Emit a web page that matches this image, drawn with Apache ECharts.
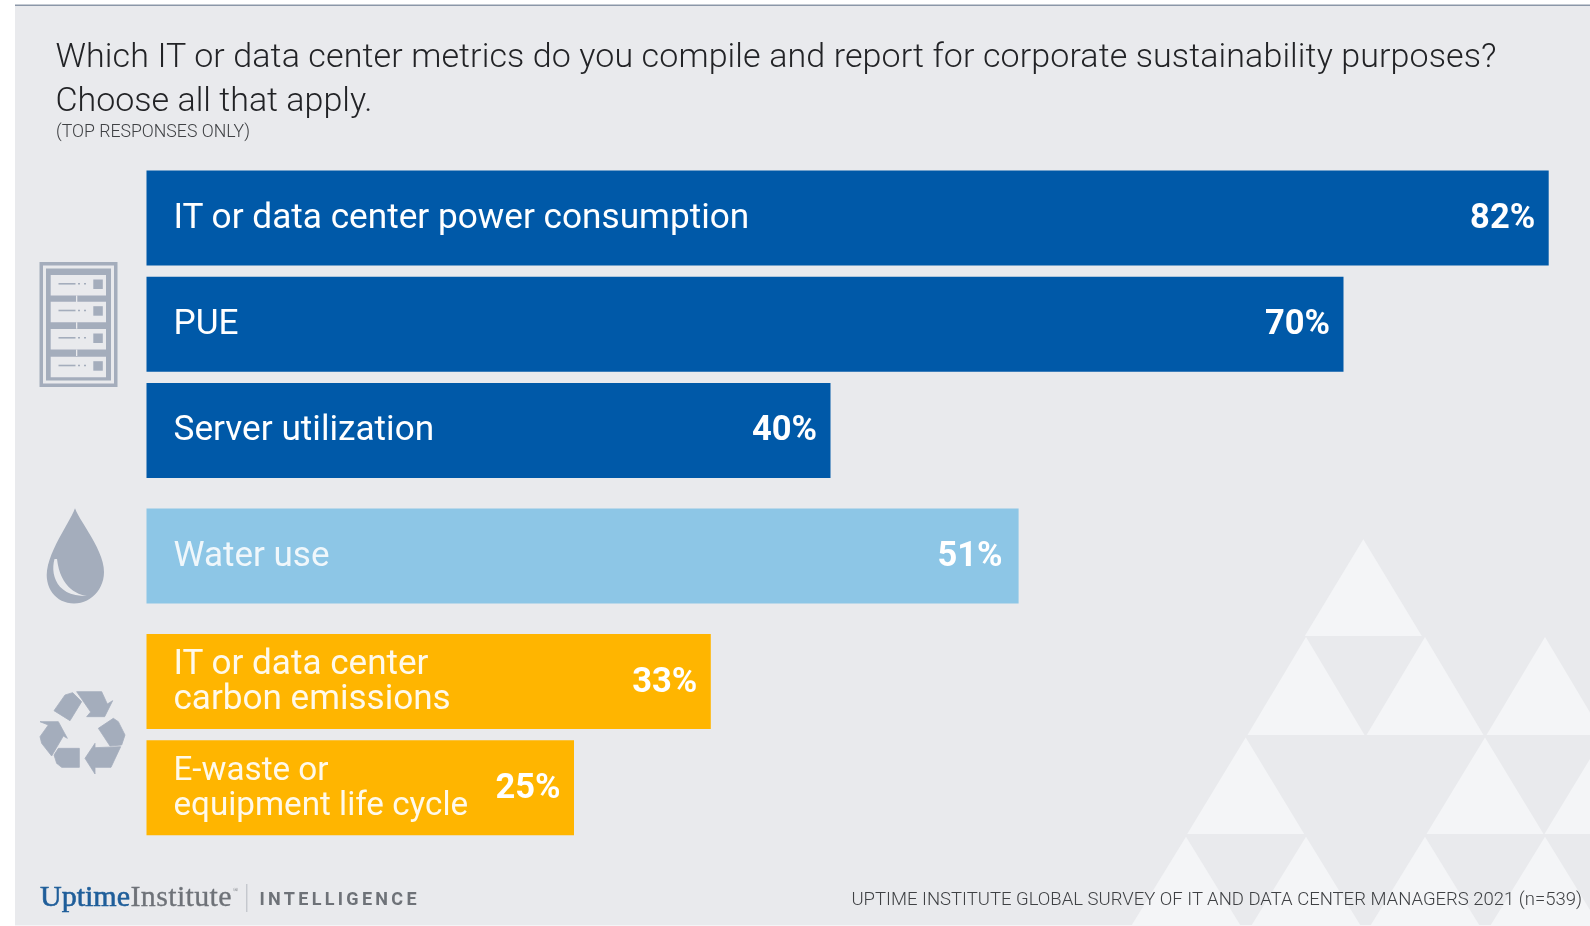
<!DOCTYPE html>
<html><head><meta charset="utf-8">
<style>html,body{margin:0;padding:0;background:#fff}#c{width:1590px;height:926px;filter:blur(0.45px)}</style>
<script src="https://cdn.jsdelivr.net/npm/echarts@6/dist/echarts.min.js"></script>
</head><body><div id="c"></div>
<script>
const titleLines = ['Which IT or data center metrics do you compile and report for corporate sustainability purposes?', 'Choose all that apply.'];
const subtitle = '(TOP RESPONSES ONLY)';
const source = 'UPTIME INSTITUTE GLOBAL SURVEY OF IT AND DATA CENTER MANAGERS 2021 (n=539)';
const powerCategories = ['IT or data center power consumption', 'PUE', 'Server utilization'];
const powerValues = [82, 70, 40];
const waterCategories = ['Water use'];
const waterValues = [51];
const wasteCategories = ['IT or data center\ncarbon emissions', 'E-waste or\nequipment life cycle'];
const wasteValues = [33, 25];

const BG = '#e9eaed', ICON = '#a4adbc', TRI = '#f4f5f7';
const pxPerPct = 17.1, left = 146.5, axisMax = 84, pitch = 106.2;
const groups = [
  {cats: powerCategories, vals: powerValues, color: '#0059a8', center: 218, text: '#ffffff', inset: 13.5, sizes: [35.2, 35.2, 35.2]},
  {cats: waterCategories, vals: waterValues, color: '#8dc6e6', center: 556, text: '#f0f7fb', inset: 16, sizes: [35]},
  {cats: wasteCategories, vals: wasteValues, color: '#ffb500', center: 681.5, text: '#fff9ea', inset: 13.5, sizes: [35.1, 33.2]}
];
const grids = [], xAxes = [], yAxes = [], series = [];
groups.forEach((g, i) => {
  grids.push({left: left, width: axisMax * pxPerPct, top: g.center - pitch / 2, height: pitch * g.cats.length});
  xAxes.push({type: 'value', gridIndex: i, min: 0, max: axisMax, show: false});
  yAxes.push({type: 'category', gridIndex: i, inverse: true, data: g.cats, show: false});
  series.push({type: 'bar', xAxisIndex: i, yAxisIndex: i, data: g.vals, barWidth: 95, barGap: '-100%', itemStyle: {color: g.color}, silent: true,
    label: {show: true, position: 'insideRight', distance: g.inset, offset: [0, -2], formatter: '{c}%', color: '#ffffff', fontFamily: 'Roboto', fontWeight: 700, fontSize: 34.5}});
  series.push({type: 'bar', xAxisIndex: i, yAxisIndex: i, barWidth: 95, barGap: '-100%', itemStyle: {color: 'transparent'}, silent: true,
    data: g.vals.map((v, k) => ({value: v, label: {fontSize: g.sizes[k]}})),
    label: {show: true, position: 'insideLeft', distance: 27, offset: [0, -2], formatter: p => p.name, color: g.text, fontFamily: 'Roboto', lineHeight: 35, align: 'left'}});
});

// decorative triangles in the background
const triRows = [
  {apexY: 539.3, baseY: 636, xs: [1363.3]},
  {apexY: 637, baseY: 735, xs: [1306, 1425, 1545]},
  {apexY: 737.5, baseY: 834, xs: [1245.7, 1485, 1603]},
  {apexY: 836.7, baseY: 932, xs: [1186, 1306, 1425, 1545]}
];
const graphics = [
  {type: 'rect', shape: {x: 15, y: 5, width: 1575, height: 920}, style: {fill: BG}},
  {type: 'rect', shape: {x: 15, y: 4.5, width: 1575, height: 1.5}, style: {fill: '#8b97a8'}}
];
triRows.forEach(r => r.xs.forEach(x => graphics.push({type: 'polygon',
  shape: {points: [[x, r.apexY], [x - 58.5, r.baseY], [x + 58.5, r.baseY]]}, style: {fill: TRI}})));
graphics.push({type: 'rect', shape: {x: 15, y: 925, width: 1575, height: 1}, style: {fill: '#f4f5f7'}});

// server icon
const rect = (x, y, w, h, fill) => ({type: 'rect', shape: {x, y, width: w, height: h}, style: {fill}});
graphics.push(rect(39.5, 262, 78, 125, ICON), rect(43, 265.5, 71, 118, BG), rect(46, 268.5, 65, 112, ICON));
[275, 301.7, 329, 356.7].forEach(y => {
  graphics.push(rect(50.7, y, 55.3, 20.5, BG), rect(93.3, y + 4.5, 9.5, 9.5, ICON), rect(58.5, y + 8, 17, 1.6, ICON), rect(78, y + 8, 2, 1.6, ICON), rect(84, y + 8, 2, 1.6, ICON));
});
[295.5, 322.2, 349.5].forEach(y => graphics.push(rect(76, y, 1.3, 6.5, BG)));

// drop icon, outlines flattened from cubic curves
const curve = (start, segs) => {
  const pts = [start]; let p0 = start;
  segs.forEach(s => {
    for (let k = 1; k <= 14; k++) {
      const t = k / 14, u = 1 - t;
      pts.push([0, 1].map(a => u*u*u*p0[a] + 3*u*u*t*s[0][a] + 3*u*t*t*s[1][a] + t*t*t*s[2][a]));
    }
    p0 = s[2];
  });
  return pts;
};
graphics.push({type: 'polygon', shape: {points: curve([75, 508.3], [
  [[80, 522], [104, 550], [104, 572]], [[104, 590], [90, 603.5], [74, 603.5]],
  [[58, 603.5], [46.7, 591], [46.7, 575]], [[46.7, 553], [70, 522], [75, 508.3]]])}, style: {fill: ICON}});
graphics.push({type: 'polygon', shape: {points: curve([54.5, 559], [
  [[50, 575], [57, 597], [87, 596]], [[74, 594], [60, 585], [57, 559]]])}, style: {fill: BG}});

// recycle icon
const recycle = [
  [[72,92],[105,45],[128,38],[155,65],[120,122]],
  [[140,35],[215,35],[232,72],[248,62],[224,110],[170,110],[182,96]],
  [[205,145],[250,115],[265,125],[285,165],[275,195],[240,198]],
  [[272,200],[243,262],[195,262],[195,282],[165,235],[195,190],[195,203]],
  [[72,225],[85,205],[148,205],[148,262],[95,262],[80,250]],
  [[30,125],[85,125],[112,175],[100,168],[65,228],[35,190],[30,170],[55,135]]
];
recycle.forEach(p => graphics.push({type: 'polygon', shape: {points: p.map(q => [30 + q[0] / 3, 680 + q[1] / 3])},
  style: {fill: ICON, stroke: ICON, lineWidth: 0.8, lineJoin: 'round'}}));

// text helper: y is the baseline
const txt = (text, x, y, style) => ({type: 'text', x, y: y - 0.35 * style.fontSize, style: Object.assign({text, verticalAlign: 'middle'}, style)});
graphics.push(
  txt('Uptime', 40, 906, {fontFamily: 'Liberation Serif', fontSize: 30, fill: '#1f5e9a', stroke: '#1f5e9a', lineWidth: 0.6}),
  txt('Institute', 130.5, 906, {fontFamily: 'Liberation Serif', fontSize: 30, fill: '#6e7278', stroke: '#6e7278', lineWidth: 0.3}),
  txt('®', 233, 892, {fontFamily: 'Liberation Serif', fontSize: 7, fill: '#6e7278'}),
  rect(246.3, 884, 1, 28, '#b5b9c0'),
  txt('INTELLIGENCE', 259.5, 905, {fontFamily: 'Roboto', fontWeight: 700, fontSize: 18, fill: '#6e7278'}),
  txt(source, 1582, 905, {fontFamily: 'Roboto', fontWeight: 300, fontSize: 18.5, fill: '#3f4144', align: 'right'})
);
graphics.push(
  txt(titleLines[0], 55.5, 67, {fontFamily: 'Roboto', fontWeight: 300, fontSize: 34, fill: '#222326'}),
  txt(titleLines[1], 55.5, 111, {fontFamily: 'Roboto', fontWeight: 300, fontSize: 34, fill: '#222326'}),
  txt(subtitle, 56, 137, {fontFamily: 'Roboto', fontWeight: 300, fontSize: 17.7, fill: '#3f4144'})
);

const chart = echarts.init(document.getElementById('c'), null, {renderer: 'svg', width: 1590, height: 926});
chart.setOption({animation: false, backgroundColor: '#ffffff', grid: grids, xAxis: xAxes, yAxis: yAxes, series, graphic: {elements: graphics}});

// tracking of the text, which the library has no option for
const tracking = {'INTELLIGENCE': '3.3px', [titleLines[0]]: '0.1px', 'Institute': '0.35px'};
document.querySelectorAll('#c text').forEach(t => { const s = tracking[t.textContent]; if (s) t.setAttribute('letter-spacing', s); });
</script></body></html>
